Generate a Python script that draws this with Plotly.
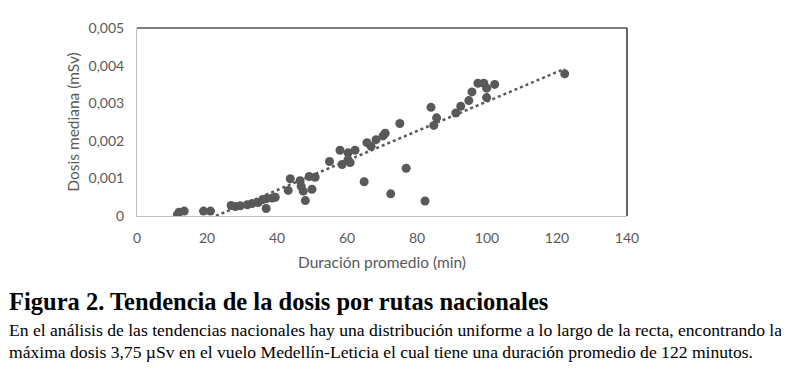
import numpy as np
import plotly.graph_objects as go

duracion_min = [11.5, 12.0, 13.5, 19.0, 21.0, 26.9, 28.1, 29.5, 31.5, 32.9,
                34.6, 35.8, 36.9, 36.9, 38.6, 39.5, 43.2, 43.8, 46.6, 46.9,
                47.5, 48.1, 49.2, 50.9, 50.0, 55.0, 58.0, 58.6, 60.3, 60.3,
                60.9, 62.3, 64.9, 65.7, 66.9, 68.3, 70.3, 70.9, 72.5, 75.1,
                76.9, 82.3, 84.0, 84.8, 85.6, 91.1, 92.5, 94.8, 95.7, 97.4,
                99.1, 99.9, 99.9, 102.2, 122.2]
dosis_msv = [0.00003, 0.00010, 0.00013, 0.00013, 0.00013, 0.00028, 0.00025, 0.00027, 0.00030, 0.00033,
             0.00036, 0.00043, 0.00046, 0.00020, 0.00048, 0.00050, 0.00068, 0.00099, 0.00094, 0.00079,
             0.00066, 0.00041, 0.00105, 0.00103, 0.00071, 0.00145, 0.00175, 0.00137, 0.00168, 0.00150,
             0.00142, 0.00175, 0.00091, 0.00195, 0.00185, 0.00203, 0.00213, 0.00220, 0.00059, 0.00246,
             0.00127, 0.00040, 0.00289, 0.00241, 0.00261, 0.00274, 0.00292, 0.00307, 0.00330, 0.00353,
             0.00353, 0.00340, 0.00315, 0.00350, 0.00378]

y_tickvals = [0, 0.001, 0.002, 0.003, 0.004, 0.005]
y_ticktext = ["0", "0,001", "0,002", "0,003", "0,004", "0,005"]
x_tickvals = [0, 20, 40, 60, 80, 100, 120, 140]

x_title = "Duración promedio (min)"
y_title = "Dosis mediana (mSv)"
caption_title = "Figura 2. Tendencia de la dosis por rutas nacionales"
caption_lines = [
    "En el análisis de las tendencias nacionales hay una distribución uniforme a lo largo de la recta, encontrando la",
    "máxima dosis 3,75 µSv en el vuelo Medellín-Leticia el cual tiene una duración promedio de 122 minutos.",
]

gray = "#595959"
OFF = 8  # default page body margin
W, H = 789 - 2 * OFF, 381 - 2 * OFF
# plot area in page pixels
L, R, T, B = 136.5, 627, 19, 216

def px(x):
    return (x - L) / (R - L)

def py(y):
    return (B - y) / (B - T)

xs = np.array(duracion_min)
ys = np.array(dosis_msv)
m, c = np.polyfit(xs, ys, 1)
tx = np.array([xs.min(), xs.max()])
ty = m * tx + c

fig = go.Figure()
fig.add_trace(go.Scatter(x=tx, y=ty, mode="lines",
                         line=dict(color=gray, width=2.5, dash="dot"),
                         hoverinfo="skip", showlegend=False))
fig.add_trace(go.Scatter(x=duracion_min, y=dosis_msv, mode="markers",
                         marker=dict(color=gray, size=9, line=dict(width=0)),
                         showlegend=False))

sans = "Lato, 'Open Sans', sans-serif"
axis_font = dict(family=sans, size=14, color=gray)
title_font = dict(family=sans, size=15.5, color=gray)
fig.update_layout(
    width=W, height=H,
    margin=dict(l=L - OFF, r=(789 - OFF) - R, t=T - OFF, b=(381 - OFF) - B),
    paper_bgcolor="white", plot_bgcolor="white",
    separators=",.",
    showlegend=False,
    xaxis=dict(range=[0, 140], tickvals=x_tickvals, showgrid=False, zeroline=False,
               showline=True, linecolor="#bfbfbf", linewidth=1, ticks="",
               tickfont=axis_font, ticklabelstandoff=9,
               title=dict(text=x_title, font=title_font, standoff=12)),
    yaxis=dict(range=[0, 0.005], tickvals=y_tickvals, ticktext=y_ticktext, showgrid=False,
               zeroline=False, showline=True, linecolor="#bfbfbf", linewidth=1, ticks="",
               tickfont=axis_font, ticklabelstandoff=9,
               title=dict(text=y_title, font=title_font, standoff=5)),
    shapes=[
        dict(type="line", xref="paper", yref="paper", x0=0, x1=1, y0=1, y1=1,
             line=dict(color="black", width=1.2)),
        dict(type="line", xref="paper", yref="paper", x0=1, x1=1, y0=0, y1=1,
             line=dict(color="black", width=1.2)),
    ],
)

serif = "'Liberation Serif', 'Times New Roman', serif"
fig.add_annotation(xref="paper", yref="paper", x=px(6), y=py(306), xanchor="left", yanchor="middle",
                   text="<b>" + caption_title + "</b>", showarrow=False,
                   font=dict(family=serif, size=24.5, color="black"))
for i, line in enumerate(caption_lines):
    fig.add_annotation(xref="paper", yref="paper", x=px(6), y=py(335 + 24 * i), xanchor="left",
                       yanchor="middle", text=line, showarrow=False,
                       font=dict(family=serif, size=17.6, color="black"))

fig.write_html("out.html")
